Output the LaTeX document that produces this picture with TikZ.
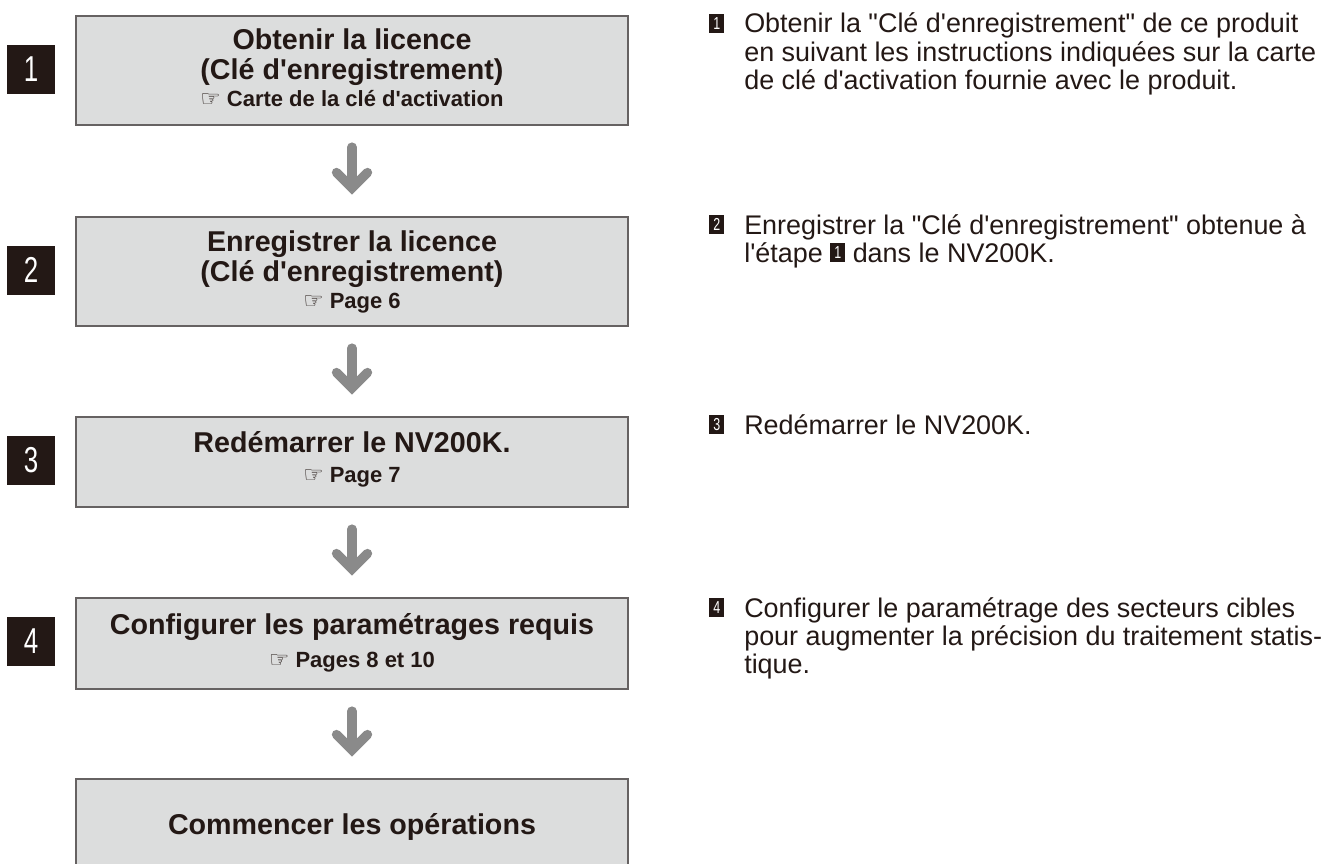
\documentclass[tikz,border=0pt]{standalone}
\usepackage{fontspec}
\setmainfont{Liberation Sans}[Ligatures=TeXOff]
\newfontfamily\condfont{Liberation Sans}[FakeStretch=0.72]
\newfontfamily\symfont{DejaVu Sans}
\usetikzlibrary{calc}
\definecolor{boxfill}{HTML}{DCDDDD}
\definecolor{boxline}{HTML}{666262}
\definecolor{sqcol}{HTML}{231815}
\definecolor{arrcol}{HTML}{8A8A8A}
\definecolor{txt}{HTML}{231815}
\newcommand{\numsq}[1]{{\setlength{\fboxsep}{0pt}\colorbox{sqcol}{\makebox[11.25pt]{\rule{0pt}{14.25pt}\color{white}\condfont\fontsize{13}{13}\selectfont\raisebox{2.5pt}{#1}}}}}
\newcommand{\hand}{{\symfont\mdseries\fontsize{17}{17}\selectfont ☞}}
\newcommand{\sidelines}[1]{\begin{tabular}[t]{@{}l@{}}#1\end{tabular}}
\begin{document}
\begin{tikzpicture}[x=0.75pt,y=-0.75pt,
  box/.style={draw=boxline, line width=1.2pt, fill=boxfill, minimum width=414pt, anchor=north, inner sep=0pt},
  numbox/.style={fill=sqcol, minimum width=36pt, minimum height=36.75pt, inner sep=0pt, text=white, font=\condfont\fontsize{27}{27}\selectfont},
  maintxt/.style={font=\bfseries\fontsize{21.5}{21.5}\selectfont, text=txt, anchor=base, inner sep=0pt},
  reftxt/.style={font=\bfseries\fontsize{16.5}{16.5}\selectfont, text=txt, anchor=base, inner sep=0pt},
  side/.style={font=\fontsize{20.2}{21}\selectfont, text=txt, anchor=base west, inner sep=0pt},
  sqnode/.style={font=\fontsize{20.2}{21}\selectfont, anchor=base west, inner sep=0pt},
  flow/.style={draw=arrcol, line width=7pt, line cap=round},
  head/.style={draw=arrcol, line width=7pt, line cap=round, line join=miter}
]
\useasboundingbox (0,0) rectangle (1330,863);
\clip (0,0) rectangle (1330,863);

% boxes
\node[box, minimum height=81.75pt] (b1) at (352,15) {};
\node[box, minimum height=81.75pt] (b2) at (352,216) {};
\node[box, minimum height=67.5pt] (b3) at (352,416) {};
\node[box, minimum height=68.25pt] (b4) at (352,597) {};
\node[box, minimum height=90pt] (b5) at (352,778) {};

% box texts
\node[maintxt] (t1a) at (352,50) {Obtenir la licence};
\node[maintxt] (t1b) at (352,80) {(Clé d'enregistrement)};
\node[reftxt] (t1c) at (352,107) {\hand\ Carte de la clé d'activation};

\node[maintxt] (t2a) at (352,251) {Enregistrer la licence};
\node[maintxt] (t2b) at (352,281) {(Clé d'enregistrement)};
\node[reftxt] (t2c) at (352,308) {\hand\ Page 6};

\node[maintxt] (t3a) at (352,452) {Redémarrer le NV200K.};
\node[reftxt] (t3b) at (352,482) {\hand\ Page 7};

\node[maintxt] (t4a) at (352,634) {Configurer les paramétrages requis};
\node[reftxt] (t4b) at (352,667) {\hand\ Pages 8 et 10};

\node[maintxt] (t5a) at (352,834) {Commencer les opérations};

% step squares
\node[numbox] (n1) at (31,69.5) {1};
\node[numbox] (n2) at (31,270) {2};
\node[numbox] (n3) at (31,460) {3};
\node[numbox] (n4) at (31,641.5) {4};

% arrows
\foreach \a/\b in {b1/b2,b2/b3,b3/b4,b4/b5}{
  \draw[flow] ($(\a.south)+(0,21.5)$) -- ($(\b.north)+(0,-30)$);
  \draw[head] ($(\b.north)+(-15.5,-43.5)$) -- ($(\b.north)+(0,-28)$) -- ($(\b.north)+(15.5,-43.5)$);
}

% side descriptions
\node[sqnode] (q1) at (709,33) {\numsq{1}};
\node[side] (s1) at (744,33) {\sidelines{Obtenir la "Clé d'enregistrement" de ce produit\\en suivant les instructions indiquées sur la carte\\de clé d'activation fournie avec le produit.}};

\node[sqnode] (q2) at (709,234) {\numsq{2}};
\node[side] (s2) at (744,234) {\sidelines{Enregistrer la "Clé d'enregistrement" obtenue à\\l'étape \numsq{1} dans le NV200K.}};

\node[sqnode] (q3) at (709,434) {\numsq{3}};
\node[side] (s3) at (744,434) {\sidelines{Redémarrer le NV200K.}};

\node[sqnode] (q4) at (709,617) {\numsq{4}};
\node[side] (s4) at (744,617) {\sidelines{Configurer le paramétrage des secteurs cibles\\pour augmenter la précision du traitement statis-\\tique.}};
\end{tikzpicture}
\end{document}
